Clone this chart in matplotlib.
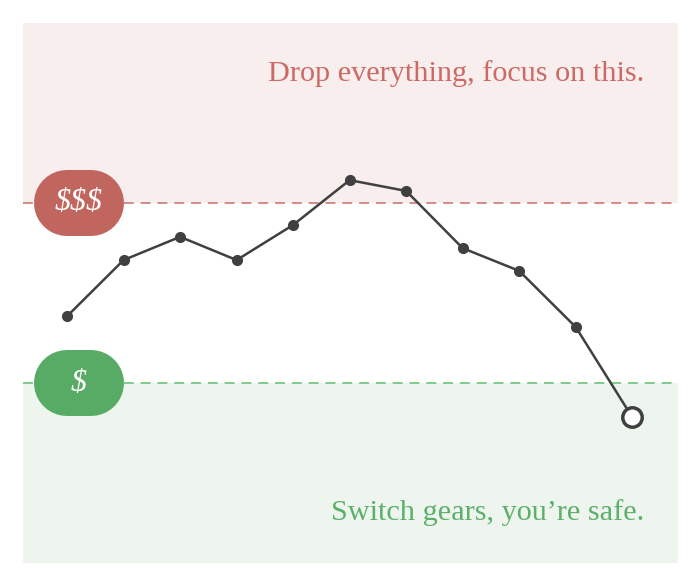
import matplotlib
matplotlib.use("Agg")
import matplotlib.pyplot as plt
from matplotlib.patches import Rectangle
from matplotlib.lines import Line2D

# data
values = [45.7, 56.1, 60.4, 56.1, 62.6, 70.9, 68.9, 58.3, 54.1, 43.7, 27.0]
high_threshold = 66.7
low_threshold = 33.3
high_label = "$$$"
low_label = "$"
high_text = "Drop everything, focus on this."
low_text = "Switch gears, you\u2019re safe."

RED_BAND = "#f7eeed"
GREEN_BAND = "#eef5ef"
RED = "#c0665f"
GREEN = "#57ab64"
RED_TEXT = "#cc6a65"
GREEN_TEXT = "#5cb06a"
LINE = "#404040"

fig = plt.figure(figsize=(7, 5.87), dpi=100)
ax = fig.add_axes([23/700, 24/587, 655/700, 540/587])
ymin, ymax = 0, 100
xs = list(range(len(values)))
ax.set_xlim(-0.78, len(values) - 1 + 0.81)
ax.set_ylim(ymin, ymax)
ax.axis("off")

ax.add_patch(Rectangle((-0.78, high_threshold), 20, ymax - high_threshold,
                       facecolor=RED_BAND, edgecolor="none", zorder=0))
ax.add_patch(Rectangle((-0.78, ymin), 20, low_threshold - ymin,
                       facecolor=GREEN_BAND, edgecolor="none", zorder=0))
ax.axhline(high_threshold, color="#c96f69", lw=1.1, dashes=(6.5, 4.5), zorder=1)
ax.axhline(low_threshold, color="#62bd72", lw=1.1, dashes=(6.5, 4.5), zorder=1)

ax.plot(xs, values, color=LINE, lw=1.8, zorder=3)
ax.plot(xs[:-1], values[:-1], "o", color=LINE, ms=7, zorder=4)
ax.plot(xs[-1:], values[-1:], "o", mfc="white", mec=LINE, mew=2.5, ms=14, zorder=5)

serif = ["Liberation Serif", "DejaVu Serif"]
ax.text(0.948, 0.893, high_text, transform=ax.transAxes, ha="right", va="baseline",
        fontsize=21.8, color=RED_TEXT, family=serif)
ax.text(0.948, 0.08, low_text, transform=ax.transAxes, ha="right", va="baseline",
        fontsize=21.8, color=GREEN_TEXT, family=serif)

fig.canvas.draw()
for thr, lab, col in [(high_threshold, high_label, RED), (low_threshold, low_label, GREEN)]:
    px = ax.transAxes.transform((0, 0))[0]
    py = ax.transData.transform((0, thr))[1]
    cx = px + 56
    w, h = 90, 66
    r = h / 2
    pill = Line2D([cx - w/2 + r, cx + w/2 - r], [py, py], transform=None,
                  color=col, lw=h * 72 / 100, solid_capstyle="round", zorder=6)
    fig.add_artist(pill)
    fig.text(cx / 700, py / 587, lab, ha="center", va="center", color="white",
             fontsize=23, style="italic", family=serif, zorder=7)

fig.savefig("out.png", dpi=100)
